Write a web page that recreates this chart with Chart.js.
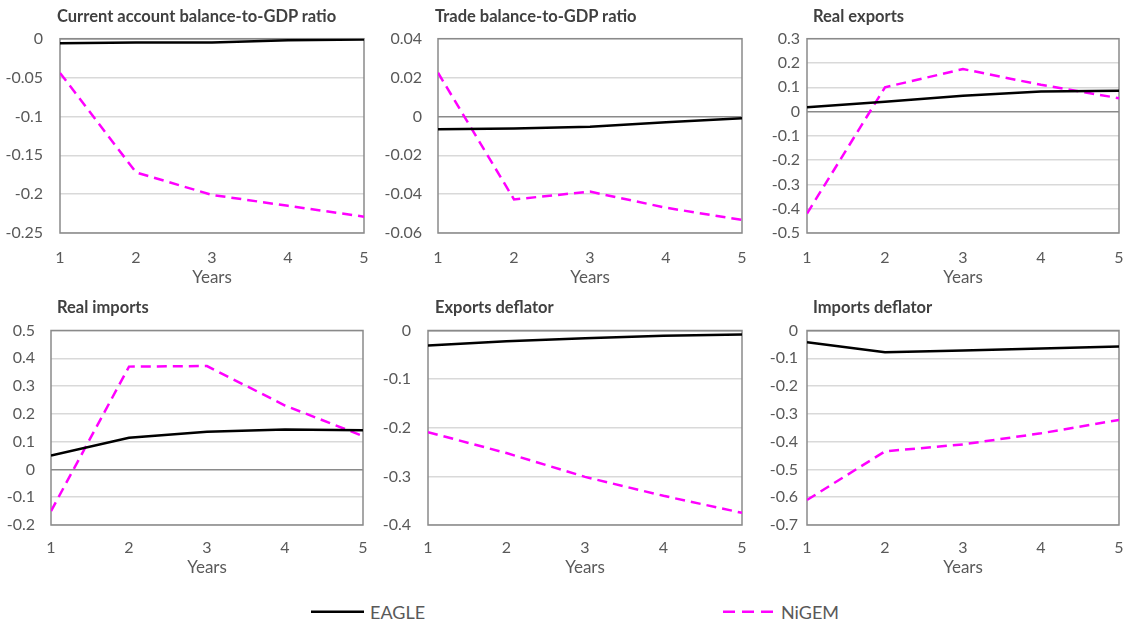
<!DOCTYPE html>
<html>
<head>
<meta charset="utf-8">
<script src="https://cdn.jsdelivr.net/npm/chart.js@4/dist/chart.umd.min.js"></script>
<style>
  html, body { margin: 0; padding: 0; background: #ffffff; }
  body { width: 1125px; height: 624px; position: relative; overflow: hidden; font-family: Lato, "Open Sans", sans-serif; }
  canvas { position: absolute; }
  .ttl { position: absolute; font: bold 16.5px Lato, sans-serif; color: #404040; white-space: nowrap; line-height: 20px; }
  .leg { position: absolute; font: 18px Lato, sans-serif; color: #595959; line-height: 22px; }
  svg { position: absolute; }
</style>
</head>
<body>
<script>
// ---- data ----
const years = [1, 2, 3, 4, 5];
const seriesNames = ["EAGLE", "NiGEM"];
const panelTitles = [
  "Current account balance-to-GDP ratio",
  "Trade balance-to-GDP ratio",
  "Real exports",
  "Real imports",
  "Exports deflator",
  "Imports deflator"
];
const caEagle = [-0.006, -0.005, -0.005, -0.002, -0.001];
const caNigem = [-0.044, -0.172, -0.201, -0.215, -0.229];
const tbEagle = [-0.0066, -0.0062, -0.0053, -0.003, -0.001];
const tbNigem = [0.0225, -0.0427, -0.0387, -0.047, -0.0533];
const rxEagle = [0.018, 0.04, 0.065, 0.083, 0.086];
const rxNigem = [-0.42, 0.10, 0.175, 0.11, 0.055];
const rmEagle = [0.05, 0.114, 0.136, 0.144, 0.141];
const rmNigem = [-0.15, 0.37, 0.372, 0.23, 0.12];
const xdEagle = [-0.031, -0.022, -0.016, -0.011, -0.008];
const xdNigem = [-0.209, -0.252, -0.301, -0.34, -0.375];
const mdEagle = [-0.042, -0.078, -0.072, -0.065, -0.058];
const mdNigem = [-0.61, -0.435, -0.41, -0.37, -0.322];
const yMins  = [-0.25, -0.06, -0.5, -0.2, -0.4, -0.7];
const yMaxs  = [0, 0.04, 0.3, 0.5, 0, 0];
const ySteps = [0.05, 0.02, 0.1, 0.1, 0.1, 0.1];

const eagleSets = [caEagle, tbEagle, rxEagle, rmEagle, xdEagle, mdEagle];
const nigemSets = [caNigem, tbNigem, rxNigem, rmNigem, xdNigem, mdNigem];

// ---- layout ----
const colLeft = [0, 375, 750];
const plotL = [60, 438, 807, 51, 428, 807];
const plotR = [364, 742, 1119, 363, 742, 1119];
const plotT = [38.7, 38.7, 38.7, 330.5, 330.5, 330.5];
const plotB = [233, 233, 233, 525, 525, 525];
const canvasTop = [20, 310];
const canvasBot = [287.5, 578.2];
const yPad = [17, 16, 7, 16, 17, 9];
const xPad = [15.7, 13.4];
const titleX = [57, 435, 813];
const titleY = [6, 296.7];

const EAGLE_COLOR = '#000000';
const NIGEM_COLOR = '#ff00ff';
const FONT = 'Lato';

const boxPlugin = {
  id: 'plotBox',
  beforeDatasetsDraw(chart) {
    const a = chart.chartArea, c = chart.ctx;
    c.save();
    c.strokeStyle = '#8a8a8a';
    c.lineWidth = 1.5;
    c.strokeRect(a.left, a.top, a.right - a.left, a.bottom - a.top);
    c.restore();
  }
};

function fmt(v) {
  const r = Math.round(v * 1000) / 1000;
  if (Math.abs(r) < 1e-9) return '0';
  return String(r);
}

function zeroPad(s) {
  s.paddingLeft = 0; s.paddingRight = 0; s.paddingTop = 0; s.paddingBottom = 0;
}

for (let i = 0; i < 6; i++) {
  const row = Math.floor(i / 3), col = i % 3;
  const cl = colLeft[col], ct = canvasTop[row];
  const cw = 375, ch = Math.round(canvasBot[row] - ct);
  const cv = document.createElement('canvas');
  cv.width = cw; cv.height = ch;
  cv.style.left = cl + 'px'; cv.style.top = ct + 'px';
  cv.style.width = cw + 'px'; cv.style.height = ch + 'px';
  document.body.appendChild(cv);

  const t = document.createElement('div');
  t.className = 'ttl';
  t.textContent = panelTitles[i];
  t.style.left = titleX[col] + 'px';
  t.style.top = titleY[row] + 'px';
  document.body.appendChild(t);

  const yW = plotL[i] - cl;
  const rightPad = cl + cw - plotR[i];
  const topPad = plotT[i] - ct;
  const xH = ct + ch - plotB[i];

  new Chart(cv, {
    type: 'line',
    data: {
      datasets: [
        {
          label: seriesNames[0],
          data: years.map((x, k) => ({ x: x, y: eagleSets[i][k] })),
          borderColor: EAGLE_COLOR,
          borderWidth: 2.5,
          pointRadius: 0,
          tension: 0,
          fill: false
        },
        {
          label: seriesNames[1],
          data: years.map((x, k) => ({ x: x, y: nigemSets[i][k] })),
          borderColor: NIGEM_COLOR,
          borderWidth: 2.5,
          borderDash: [10, 6],
          pointRadius: 0,
          tension: 0,
          fill: false
        }
      ]
    },
    options: {
      responsive: false,
      animation: false,
      devicePixelRatio: 1,
      layout: { padding: { left: 0, right: rightPad, top: topPad, bottom: 0 } },
      plugins: { legend: { display: false }, title: { display: false }, tooltip: { enabled: false } },
      scales: {
        x: {
          type: 'linear',
          min: 1, max: 5,
          grid: { display: false, drawTicks: false },
          border: { display: false },
          ticks: {
            stepSize: 1,
            padding: xPad[row],
            color: '#595959',
            font: { family: FONT, size: 16 },
            maxRotation: 0,
            callback: v => String(v)
          },
          title: {
            display: true,
            text: 'Years',
            color: '#595959',
            font: { family: FONT, size: 17 },
            padding: { top: 0, bottom: 0 }
          },
          afterFit: s => { s.height = xH; zeroPad(s); }
        },
        y: {
          min: yMins[i], max: yMaxs[i],
          grid: {
            drawTicks: false,
            lineWidth: 1.5,
            color: c => (Math.abs(c.tick.value) < 1e-9 ? '#8a8a8a' : '#d9d9d9')
          },
          border: { display: false },
          ticks: {
            stepSize: ySteps[i],
            padding: yPad[i],
            color: '#595959',
            font: { family: FONT, size: 16 },
            callback: v => fmt(v)
          },
          afterFit: s => { s.width = yW; zeroPad(s); }
        }
      }
    },
    plugins: [boxPlugin]
  });
}

// ---- legend ----
const legendItems = [
  { name: seriesNames[0], x1: 311, x2: 364, tx: 370, color: EAGLE_COLOR, dash: null },
  { name: seriesNames[1], x1: 723, x2: 773, tx: 781, color: NIGEM_COLOR, dash: '12 7' }
];
const NS = 'http://www.w3.org/2000/svg';
const svg = document.createElementNS(NS, 'svg');
svg.setAttribute('width', '1125'); svg.setAttribute('height', '30');
svg.style.left = '0px'; svg.style.top = '597px';
legendItems.forEach(it => {
  const ln = document.createElementNS(NS, 'line');
  ln.setAttribute('x1', it.x1); ln.setAttribute('x2', it.x2);
  ln.setAttribute('y1', 14.7); ln.setAttribute('y2', 14.7);
  ln.setAttribute('stroke', it.color); ln.setAttribute('stroke-width', '2.5');
  if (it.dash) ln.setAttribute('stroke-dasharray', it.dash);
  svg.appendChild(ln);
  const d = document.createElement('div');
  d.className = 'leg';
  d.textContent = it.name;
  d.style.left = it.tx + 'px';
  d.style.top = '600.7px';
  document.body.appendChild(d);
});
document.body.appendChild(svg);
</script>
</body>
</html>
